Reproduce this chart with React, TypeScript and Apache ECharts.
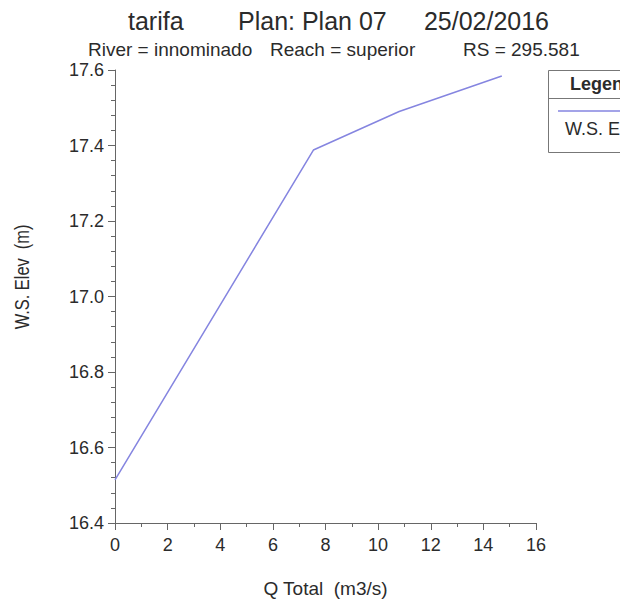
import React, { useEffect, useRef } from "react";
import * as echarts from "echarts";

// Data (rating curve)
const qTotal = [0, 7.54, 10.8, 14.7];
const wsElev = [16.514, 17.388, 17.49, 17.584];

const xAxisRange = { min: 0, max: 16, interval: 2 };
const yAxisRange = { min: 16.4, max: 17.6, interval: 0.2 };

const titleParts = ["tarifa", "Plan: Plan 07", "25/02/2016"];
const subtitleParts = ["River = innominado", "Reach = superior", "RS = 295.581"];
const seriesName = "W.S. Elev";
const xName = "Q Total  (m3/s)";
const yName = "W.S. Elev  (m)";

const FONT = "'Liberation Sans', Arial, sans-serif";
const TEXT = "#2b2b2b";
const AXIS = "#666666";
const LINE = "#8585e0";

export default function App() {
  const ref = useRef<HTMLDivElement>(null);

  useEffect(() => {
    document.body.style.margin = "0";
    if (!ref.current) return;
    const chart = echarts.init(ref.current, null, { renderer: "svg" });
    const data = qTotal.map((q, i) => [q, wsElev[i]]);

    const txt = (text: string, x: number, y: number, size: number, align: string, weight = "normal") => ({
      type: "text",
      x,
      y,
      silent: true,
      style: {
        text,
        fill: TEXT,
        font: `${weight} ${size}px ${FONT}`,
        textAlign: align,
        align,
        textVerticalAlign: "middle",
        verticalAlign: "middle",
      },
    });

    chart.setOption({
      animation: false,
      backgroundColor: "#ffffff",
      grid: { left: 115, right: 84, top: 70, bottom: 84, containLabel: false },
      xAxis: {
        type: "value",
        min: xAxisRange.min,
        max: xAxisRange.max,
        interval: xAxisRange.interval,
        name: xName,
        nameLocation: "middle",
        nameGap: 56,
        nameTextStyle: { color: TEXT, fontSize: 19, fontFamily: FONT },
        axisLine: { show: true, lineStyle: { color: AXIS, width: 1 } },
        axisTick: { show: true, length: 7, lineStyle: { color: AXIS } },
        minorTick: { show: true, splitNumber: 2, length: 4, lineStyle: { color: AXIS } },
        splitLine: { show: false },
        axisLabel: { color: TEXT, fontSize: 18, fontFamily: FONT, margin: 13 },
      },
      yAxis: {
        type: "value",
        min: yAxisRange.min,
        max: yAxisRange.max,
        interval: yAxisRange.interval,
        axisLine: { show: true, lineStyle: { color: AXIS, width: 1 } },
        axisTick: { show: true, length: 7, lineStyle: { color: AXIS } },
        minorTick: { show: true, splitNumber: 5, length: 4, lineStyle: { color: AXIS } },
        splitLine: { show: false },
        axisLabel: {
          color: TEXT,
          fontSize: 18,
          fontFamily: FONT,
          margin: 11,
          formatter: (v: number) => v.toFixed(1),
        },
      },
      series: [
        {
          name: seriesName,
          type: "line",
          data,
          showSymbol: false,
          symbol: "none",
          lineStyle: { color: LINE, width: 1.5 },
          itemStyle: { color: LINE },
        },
      ],
      graphic: [
        txt(titleParts[0], 128, 21, 25, "left"),
        txt(titleParts[1], 238, 21, 25, "left"),
        txt(titleParts[2], 549, 21, 25, "right"),
        txt(subtitleParts[0], 88, 49, 19, "left"),
        txt(subtitleParts[1], 270, 49, 19, "left"),
        txt(subtitleParts[2], 463, 49, 19, "left"),
        {
          type: "text",
          x: 22,
          y: 277,
          rotation: Math.PI / 2,
          scaleX: 0.82,
          silent: true,
          style: {
            text: yName,
            fill: TEXT,
            font: `normal 20px ${FONT}`,
            textAlign: "center",
            align: "center",
            textVerticalAlign: "middle",
            verticalAlign: "middle",
          },
        },
        {
          type: "rect",
          shape: { x: 548.5, y: 70.5, width: 110, height: 82 },
          style: { fill: "#ffffff", stroke: "#777777", lineWidth: 1 },
          silent: true,
        },
        {
          type: "line",
          shape: { x1: 548.5, y1: 98.5, x2: 660, y2: 98.5 },
          style: { stroke: "#777777", lineWidth: 1 },
          silent: true,
        },
        txt("Legend", 570, 84, 18, "left", "bold"),
        {
          type: "line",
          shape: { x1: 558, y1: 111, x2: 660, y2: 111 },
          style: { stroke: LINE, lineWidth: 1.5 },
          silent: true,
        },
        txt(seriesName, 565, 129, 18, "left"),
      ],
    });

    return () => chart.dispose();
  }, []);

  return <div ref={ref} style={{ width: 620, height: 607 }} />;
}
